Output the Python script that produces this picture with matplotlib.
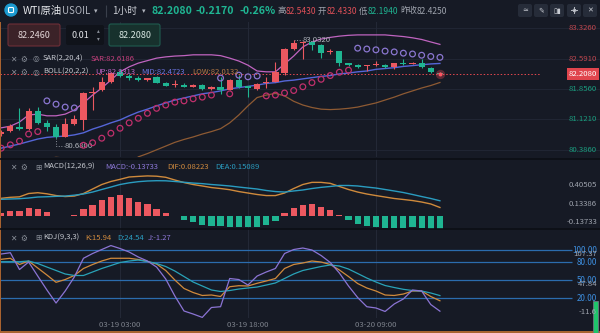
import matplotlib
matplotlib.use('Agg')
import matplotlib.pyplot as plt
from matplotlib.patches import FancyBboxPatch, Rectangle, Circle
from matplotlib.transforms import blended_transform_factory
import numpy as np

plt.rcParams['font.family'] = ['Noto Sans CJK SC', 'DejaVu Sans']

# WTI 1h candles, oldest first (last bar = 03-20 16:00)
opens = [80.76, 80.84, 80.95, 80.89, 81.33, 81.03, 80.95, 80.70, 81.01, 81.11,
         81.76, 81.83, 82.03, 82.26, 82.17, 82.13, 82.07, 82.14, 82.01, 81.95,
         81.95, 81.91, 81.95, 81.86, 81.91, 81.83, 82.07, 81.93, 81.86, 82.00,
         82.03, 82.25, 82.81, 82.96, 83.00, 82.92, 82.74, 82.76, 82.48, 82.43,
         82.41, 82.44, 82.43, 82.39, 82.49, 82.46, 82.48, 82.37, 82.25]
highs = [80.87, 81.01, 81.40, 81.40, 81.42, 81.11, 81.01, 81.15, 81.23, 81.78,
         81.91, 82.15, 82.27, 82.35, 82.22, 82.17, 82.13, 82.16, 82.02, 82.07,
         82.00, 81.97, 81.97, 81.93, 82.15, 82.09, 82.19, 81.94, 81.99, 82.15,
         82.51, 82.84, 83.032, 83.01, 83.01, 82.94, 82.82, 82.77, 82.49, 82.45,
         82.44, 82.53, 82.45, 82.49, 82.57, 82.50, 82.57, 82.38, 82.26]
lows = [80.72, 80.82, 80.87, 80.87, 81.01, 80.84, 80.68, 80.69, 80.99, 80.87,
        81.35, 81.81, 82.00, 82.15, 82.07, 82.05, 82.06, 81.99, 81.92, 81.91,
        81.90, 81.90, 81.84, 81.84, 81.73, 81.82, 81.88, 81.67, 81.84, 81.88,
        82.02, 82.19, 82.80, 82.57, 82.80, 82.60, 82.70, 82.42, 82.42, 82.36,
        82.30, 82.40, 82.36, 82.34, 82.44, 82.45, 82.37, 82.24, 82.194]
closes = [80.83, 80.96, 80.90, 81.33, 81.04, 80.93, 80.70, 81.01, 81.13, 81.75,
          81.78, 82.03, 82.23, 82.18, 82.11, 82.07, 82.11, 82.01, 81.94, 81.98,
          81.91, 81.95, 81.86, 81.91, 81.83, 82.07, 81.91, 81.87, 81.98, 82.03,
          82.27, 82.81, 82.96, 83.00, 82.92, 82.73, 82.76, 82.48, 82.43, 82.38,
          82.43, 82.46, 82.38, 82.48, 82.45, 82.49, 82.38, 82.26, 82.208]

boll_up = [80.92, 80.96, 81.06, 81.23, 81.25, 81.21, 81.21, 81.25, 81.35, 81.52,
           81.71, 81.88, 82.07, 82.27, 82.39, 82.48, 82.54, 82.60, 82.63, 82.65,
           82.66, 82.68, 82.68, 82.68, 82.66, 82.60, 82.53, 82.43, 82.29, 82.27,
           82.27, 82.46, 82.65, 82.87, 82.99, 83.06, 83.10, 83.13, 83.15, 83.16,
           83.16, 83.16, 83.16, 83.14, 83.12, 83.09, 83.05, 82.99, 82.9313]
boll_mid = [80.43, 80.48, 80.53, 80.59, 80.65, 80.69, 80.71, 80.72, 80.75, 80.80,
            80.89, 80.96, 81.04, 81.11, 81.21, 81.30, 81.37, 81.45, 81.52, 81.59,
            81.64, 81.69, 81.74, 81.77, 81.81, 81.86, 81.89, 81.92, 81.95, 81.99,
            82.01, 82.05, 82.07, 82.10, 82.13, 82.16, 82.18, 82.22, 82.24, 82.27,
            82.29, 82.33, 82.35, 82.37, 82.40, 82.42, 82.44, 82.46, 82.4723]
boll_low = [79.94, 80.00, 80.00, 79.95, 80.05, 80.17, 80.21, 80.19, 80.15, 80.08,
            80.07, 80.04, 80.01, 79.95, 80.03, 80.22, 80.30, 80.39, 80.48, 80.57,
            80.64, 80.70, 80.77, 80.83, 80.90, 81.04, 81.23, 81.45, 81.65, 81.71,
            81.75, 81.69, 81.56, 81.47, 81.41, 81.37, 81.36, 81.37, 81.39, 81.42,
            81.47, 81.52, 81.59, 81.66, 81.74, 81.81, 81.88, 81.94, 82.0132]
sar = [80.43, 80.51, 80.60, 80.77, 80.83, 81.57, 81.49, 81.42, 81.40, 80.50,
       80.56, 80.67, 80.79, 80.91, 81.04, 81.15, 81.27, 81.39, 81.47, 81.54,
       81.57, 81.62, 81.66, 81.71, 82.12, 81.74, 82.19, 82.15, 82.17, 81.69,
       81.71, 81.76, 81.82, 81.91, 82.01, 82.09, 82.18, 82.26, 82.31, 82.84,
       82.82, 82.80, 82.77, 82.75, 82.72, 82.70, 82.67, 82.64, 82.6186]

dif = [0.176, 0.186, 0.191, 0.225, 0.233, 0.222, 0.204, 0.194, 0.199, 0.225,
       0.271, 0.317, 0.348, 0.370, 0.394, 0.400, 0.40505, 0.402, 0.391, 0.363,
       0.337, 0.317, 0.302, 0.286, 0.276, 0.264, 0.245, 0.230, 0.215, 0.204,
       0.204, 0.230, 0.276, 0.317, 0.339, 0.339, 0.329, 0.297, 0.266, 0.240,
       0.220, 0.204, 0.189, 0.174, 0.164, 0.153, 0.138, 0.118, 0.08223]
dea = [0.166, 0.169, 0.172, 0.179, 0.189, 0.192, 0.196, 0.199, 0.208, 0.220,
       0.240, 0.266, 0.291, 0.317, 0.334, 0.346, 0.353, 0.356, 0.355, 0.348,
       0.340, 0.332, 0.326, 0.317, 0.310, 0.302, 0.291, 0.281, 0.271, 0.256,
       0.245, 0.240, 0.251, 0.261, 0.276, 0.288, 0.297, 0.307, 0.307, 0.302,
       0.291, 0.281, 0.266, 0.251, 0.235, 0.215, 0.194, 0.174, 0.15089]
macd_hist = [0.030, 0.045, 0.045, 0.080, 0.065, 0.038, -0.004, -0.004, 0.004, 0.070,
             0.110, 0.160, 0.190, 0.210, 0.180, 0.140, 0.115, 0.065, 0.025, -0.010,
             -0.050, -0.070, -0.095, -0.105, -0.110, -0.115, -0.115, -0.120, -0.115, -0.100,
             -0.060, 0.025, 0.080, 0.110, 0.115, 0.085, 0.058, 0.005, -0.050, -0.085,
             -0.105, -0.115, -0.125, -0.125, -0.125, -0.120, -0.125, -0.135, -0.13733]

kdj_k = [84.6, 86.3, 76.0, 81.8, 70.2, 58.6, 46.5, 51.1, 57.8, 69.4,
         76.0, 81.8, 86.3, 86.3, 86.3, 84.3, 81.0, 76.8, 66.1, 50.3,
         36.3, 29.6, 24.7, 25.5, 23.0, 39.2, 40.9, 40.4, 44.9, 48.7,
         52.8, 69.4, 76.0, 78.5, 81.8, 80.1, 76.0, 66.9, 56.1, 44.5,
         37.1, 32.1, 25.5, 24.7, 27.1, 32.1, 32.1, 23.0, 15.94]
kdj_d = [80.6, 80.6, 80.6, 81.8, 77.6, 71.8, 66.1, 60.3, 57.8, 57.8,
         63.6, 69.4, 74.3, 79.3, 81.8, 83.4, 81.0, 77.6, 72.7, 65.2,
         56.1, 47.0, 40.4, 33.8, 31.3, 32.9, 35.4, 37.1, 38.7, 42.0,
         45.4, 52.8, 60.3, 66.1, 69.4, 72.7, 75.2, 73.5, 68.5, 61.1,
         53.6, 47.0, 41.2, 37.9, 34.9, 32.9, 32.1, 28.8, 24.54]
kdj_j = [93.4, 95.5, 67.7, 80.1, 56.9, 33.8, 12.2, 32.1, 55.3, 86.3,
         94.2, 100.8, 107.37, 102.5, 96.7, 88.4, 81.8, 71.8, 52.0, 23.8,
         -1.0, -6.0, -11.6, 4.8, 6.1, 52.8, 51.1, 42.0, 56.9, 63.6,
         69.4, 94.2, 100.8, 103.3, 100.0, 90.9, 79.3, 61.9, 40.4, 21.3,
         6.1, 4.0, -1.8, 10.6, 18.9, 33.8, 32.1, 9.7, -1.27]
kdj_levels = [100, 80, 50, 20]

price_ticks = [83.3260, 82.5910, 81.8560, 81.1210, 80.3860]
macd_ticks = ['0.40505', '0.13386', '-0.13733']
kdj_ticks = ['107.37', '47.84', '-11.6']
time_idx = [13, 27, 41]
time_labels = ['03-19 03:00', '03-19 18:00', '03-20 09:00']

W, H = 600, 333
BG = '#161a25'
GRID = '#232836'
RED = '#ec5860'
GREEN = '#1fb592'
TXT = '#c3c6cd'
GRAY = '#9ea3ad'
SYM = ['DejaVu Sans']

fig = plt.figure(figsize=(W / 100, H / 100), dpi=100, facecolor=BG)

x = np.arange(len(closes))
X0, DX = 1.2, 9.14
XLIM = (-X0 / DX, (W - X0) / DX)


def pane(top, bottom, ylim):
    ax = fig.add_axes([0, 1 - bottom / H, 1, (bottom - top) / H])
    ax.set_xlim(*XLIM)
    ax.set_ylim(*ylim)
    ax.set_axis_off()
    for i in time_idx:
        ax.axvline(i, color=GRID, lw=0.8, zorder=0)
    return ax


o, h, l, c = map(np.array, (opens, highs, lows, closes))
up = c >= o
cols = np.where(up, RED, GREEN)

# ---- main pane: candles + BOLL + SAR
ax1 = pane(22, 157, (80.217, 83.471))
for p in price_ticks:
    ax1.axhline(p, color=GRID, lw=0.6, zorder=0)
ax1.vlines(x, l, h, color=cols, lw=0.8, zorder=3)
ax1.bar(x, np.maximum(np.abs(c - o), 0.022), bottom=np.minimum(o, c),
        width=0.68, color=cols, zorder=4)
ax1.plot(x, boll_up, color='#c064c0', lw=0.9, zorder=2)
ax1.plot(x, boll_mid, color='#5566d8', lw=1.0, zorder=2)
ax1.plot(x, boll_low, color='#8e5a33', lw=0.9, zorder=2)
sar_cols = np.where(np.array(sar) < c, '#c0306c', '#8a76d0')
ax1.scatter(x, sar, s=17, facecolors='none', edgecolors=sar_cols,
            linewidths=0.9, zorder=5)

ax1.axhline(c[-1], xmax=540 / W, color='#e5484f', lw=0.7, ls=(0, (1.5, 2)), zorder=1)
ax1.scatter([x[-1]], [c[-1]], s=45, color='#ff4d5a', alpha=0.3, lw=0, zorder=6)
ax1.scatter([x[-1]], [c[-1]], s=8, color='#ff5563', lw=0, zorder=7)

bt = blended_transform_factory(ax1.transAxes, ax1.transData)
for p in price_ticks:
    ax1.text(597 / W, p, f'{p:.4f}', transform=bt, ha='right', va='center',
             fontsize=5.6, color='#c0474f' if p > c[-1] else '#1a9e7f')
ax1.text(597 / W, c[-1], f'{c[-1]:.4f}', transform=bt, ha='right', va='center',
         fontsize=5.6, color='white', zorder=8,
         bbox=dict(boxstyle='square,pad=0.25', fc='#e0454d', ec='none'))

hi = int(np.argmax(h))
ax1.plot([hi, hi + 0.9], [h[hi], h[hi]], color='#8a8f99', lw=0.7, ls=':')
ax1.text(hi + 0.95, h[hi], f'{h[hi]:.4f}', fontsize=5.6, color='#b0b4bc', va='center')
lo = int(np.argmin(l))
ax1.plot([lo, lo, lo + 0.9], [l[lo], l[lo] - 0.2, l[lo] - 0.2],
         color='#8a8f99', lw=0.7, ls=':')
ax1.text(lo + 0.95, l[lo] - 0.2, f'{l[lo]:.4f}', fontsize=5.6, color='#b0b4bc', va='center')

# ---- MACD pane
ax2 = pane(159, 229, (-0.138, 0.578))
hist = np.array(macd_hist)
ax2.bar(x, hist, width=0.68, color=np.where(hist >= 0, RED, GREEN), zorder=3)
ax2.plot(x, dif, color='#cf8a3c', lw=1.0, zorder=4)
ax2.plot(x, dea, color='#2a9cc0', lw=1.0, zorder=4)

# ---- KDJ pane
ax3 = pane(229, 318, (-12.6, 134.8))
ax3.hlines(kdj_levels, XLIM[0], (572 - X0) / DX, color='#2b6cae', lw=0.9, zorder=1)
ax3.plot(x, kdj_k, color='#d08a3c', lw=0.9, zorder=3)
ax3.plot(x, kdj_d, color='#29a3b8', lw=0.9, zorder=3)
ax3.plot(x, kdj_j, color='#8b74d4', lw=0.9, zorder=3)
bt3 = blended_transform_factory(ax3.transAxes, ax3.transData)
for v in kdj_levels:
    ax3.text(597 / W, v, f'{v:.2f}', transform=bt3, ha='right', va='center',
             fontsize=5.8, color='#3d8fe0', zorder=5)

# ---- overlay in pixel coordinates for the chrome
ov = fig.add_axes([0, 0, 1, 1], zorder=10)
ov.set_xlim(0, W)
ov.set_ylim(H, 0)
ov.set_axis_off()
ov.patch.set_alpha(0)

ov.hlines([158.5, 229], 0, W, color='#0c0f15', lw=1.2)
ov.add_patch(Rectangle((0, 331), W, 2, color='#a8622f', lw=0))
ov.add_patch(Rectangle((0, 22), 1.2, H - 22, color='#a8622f', lw=0))

for y, s in zip([185, 203.5, 222], macd_ticks):
    ov.text(597, y, s, ha='right', va='center', fontsize=5.6, color=GRAY)
for y, s in zip([254, 284, 312], kdj_ticks):
    ov.text(597, y, s, ha='right', va='center', fontsize=5.6, color=GRAY)
for i, s in zip(time_idx, time_labels):
    ov.text(X0 + DX * i, 325, s, ha='center', va='center', fontsize=5.6, color='#7d828c')

# top bar
ov.add_patch(Circle((11, 10), 6, color='#1c9bd1'))
ov.add_patch(FancyBboxPatch((8.5, 7.5), 5, 5, boxstyle='round,pad=0,rounding_size=1',
                            fc='none', ec='white', lw=0.8))
ov.text(23, 11, 'WTI原油', fontsize=7.5, color='#e6e8ec', va='center')
ov.text(62, 11, 'USOIL', fontsize=7, color='#b0b4bd', va='center')
ov.text(94, 11, '▾', fontsize=5, color='#b0b4bd', va='center', family=SYM)
ov.vlines(106, 5, 17, color='#3a3f4b', lw=0.8)
ov.text(112, 11, '1小时', fontsize=7, color='#c9ccd3', va='center')
ov.text(142, 11, '▾', fontsize=5, color='#b0b4bd', va='center', family=SYM)
ov.text(151, 11, '82.2080', fontsize=7.6, color=GREEN, va='center', weight='bold')
ov.text(196, 11, '-0.2170', fontsize=7.6, color=GREEN, va='center', weight='bold')
ov.text(240, 11, '-0.26%', fontsize=7.6, color=GREEN, va='center', weight='bold')
quote = [(277, '高', GRAY), (286, '82.5430', '#e05058'), (318, '开', GRAY),
         (327, '82.4330', '#e05058'), (359, '低', GRAY), (368, '82.1940', GREEN),
         (400, '昨收', GRAY), (417, '82.4250', GRAY)]
for px, s, col in quote:
    ov.text(px, 11, s, fontsize=6.1, color=col, va='center')

# toolbar buttons (the expand arrow has no glyph in the installed fonts)
for x0, glyph in zip([518, 534, 550, 567, 583], ['≃', '✎', '▯▮', '', '✕']):
    ov.add_patch(FancyBboxPatch((x0, 4), 14, 13, boxstyle='round,pad=0,rounding_size=2',
                                fc='#262c39', ec='none'))
    if glyph:
        ov.text(x0 + 7, 10.5, glyph, fontsize=5, color='#c9ccd3', ha='center',
                va='center', family=SYM)
ov.annotate('', xy=(578, 7), xytext=(571, 14),
            arrowprops=dict(arrowstyle='<->,head_length=0.25,head_width=0.15',
                            color='#c9ccd3', lw=0.7))

# order boxes
ov.add_patch(FancyBboxPatch((8, 24), 52, 22, boxstyle='round,pad=0,rounding_size=2',
                            fc='#3b2228', ec='#6e2f38', lw=0.8))
ov.text(34, 35, '82.2460', fontsize=6.5, color='#e2d5d7', ha='center', va='center')
ov.add_patch(FancyBboxPatch((66, 25), 38, 20, boxstyle='round,pad=0,rounding_size=2',
                            fc='#10131a', ec='none'))
ov.text(80, 35, '0.01', fontsize=6.5, color='#e2e4e8', ha='center', va='center')
ov.text(98, 31, '▴', fontsize=4, color='#8a8f99', ha='center', va='center', family=SYM)
ov.text(98, 39, '▾', fontsize=4, color='#8a8f99', ha='center', va='center', family=SYM)
ov.add_patch(FancyBboxPatch((109, 24), 51, 22, boxstyle='round,pad=0,rounding_size=2',
                            fc='#17312d', ec='#1f5b4f', lw=0.8))
ov.text(135, 35, '82.2080', fontsize=6.5, color='#d6e5e1', ha='center', va='center')


def legend_row(y, icons, items):
    for px, g in icons:
        ov.text(px, y, g, fontsize=5.5, color='#8a8f99', ha='center', va='center', family=SYM)
    for px, s, col in items:
        ov.text(px, y, s, fontsize=5.5, color=col, va='center')


main_icons = [(13, '✕'), (24, '⚙'), (36, '◎')]
sub_icons = [(13, '✕'), (24, '⚙'), (38, '⊞')]
legend_row(59, main_icons, [(43, 'SAR(2,20,4)', TXT), (91, f'SAR:{sar[-1]:.4f}', '#c8407e')])
legend_row(72, main_icons, [(43, 'BOLL(20,2,2)', TXT),
                            (95, f'UP:{boll_up[-1]:.4f}', '#c066c6'),
                            (141, f'MID:{boll_mid[-1]:.4f}', '#6b74e0'),
                            (192, f'LOW:{boll_low[-1]:.4f}', '#b87a45')])
legend_row(167, sub_icons, [(43, 'MACD(12,26,9)', TXT),
                            (105, f'MACD:{macd_hist[-1]:.5f}', '#8d78d8'),
                            (167, f'DIF:{dif[-1]:.5f}', '#d08a3e'),
                            (215, f'DEA:{dea[-1]:.5f}', '#2a9cc0')])
legend_row(238, sub_icons, [(43, 'KDJ(9,3,3)', TXT),
                            (85, f'K:{kdj_k[-1]:.2f}', '#d08a3e'),
                            (117, f'D:{kdj_d[-1]:.2f}', '#2a9cc0'),
                            (148, f'J:{kdj_j[-1]:.2f}', '#8d78d8')])

ov.add_patch(Rectangle((592.5, 301), 5, 32, fc='#1fc46a', ec='#6c7380', lw=0.6))

fig.savefig('out.png', dpi=100, facecolor=BG)
